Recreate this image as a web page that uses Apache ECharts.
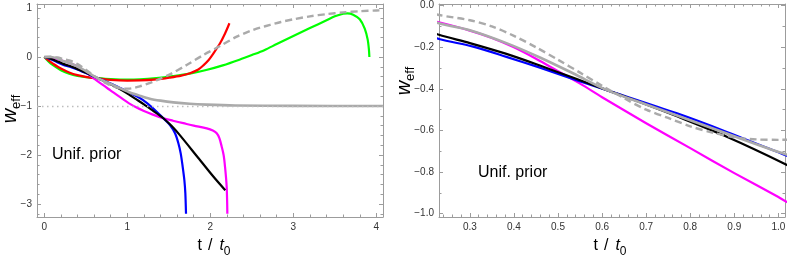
<!DOCTYPE html>
<html><head><meta charset="utf-8">
<script src="https://cdn.jsdelivr.net/npm/echarts@6/dist/echarts.min.js"></script>
<style>html,body{margin:0;padding:0;background:#fff}#c{width:789px;height:259px}</style>
</head><body><div id="c"></div>
<script>
// ---- tick labels ----
const leftXTicks = [0, 1, 2, 3, 4];
const leftYTicks = [-3, -2, -1, 0, 1];
const rightXTicks = [0.3, 0.4, 0.5, 0.6, 0.7, 0.8, 0.9, 1.0];
const rightYTicks = [-1.0, -0.8, -0.6, -0.4, -0.2, 0.0];
const refLevel = -1;
const panelLabel = 'Unif. prior';

// ---- curves [t/t0, w_eff] ----
const grayDashed = [[0,0],[0.08,0.005],[0.16,-0.01],[0.23,-0.045],[0.3,-0.07],[0.35,-0.1],[0.4,-0.145],[0.45,-0.2],[0.5,-0.26],[0.55,-0.322],[0.6,-0.385],[0.65,-0.445],[0.7,-0.5],[0.75,-0.54],[0.8,-0.58],[0.85,-0.61],[0.9,-0.633],[0.95,-0.643],[1.0,-0.645],[1.05,-0.64],[1.15,-0.6],[1.3,-0.51],[1.4,-0.44],[1.514,-0.354],[1.715,-0.163],[1.916,0.04],[2.117,0.224],[2.318,0.415],[2.478,0.53],[2.6,0.6],[2.72,0.655],[2.85,0.715],[3.0,0.77],[3.2,0.83],[3.4,0.875],[3.6,0.91],[3.8,0.935],[4.0,0.95],[4.08,0.955]];
const graySolid = [[0,0],[0.08,0.0],[0.16,-0.03],[0.23,-0.085],[0.3,-0.118],[0.383,-0.18],[0.459,-0.249],[0.535,-0.326],[0.611,-0.406],[0.7,-0.475],[0.77,-0.528],[0.883,-0.615],[1.016,-0.714],[1.15,-0.79],[1.27,-0.85],[1.4,-0.89],[1.554,-0.925],[1.75,-0.955],[1.956,-0.972],[2.3,-0.988],[3.0,-0.997],[4.08,-1.0]];
const blackCurve = [[0,0],[0.08,-0.035],[0.16,-0.09],[0.23,-0.14],[0.3,-0.18],[0.383,-0.232],[0.459,-0.288],[0.535,-0.347],[0.611,-0.406],[0.7,-0.475],[0.77,-0.532],[0.883,-0.63],[1.016,-0.762],[1.1,-0.855],[1.2,-0.965],[1.3,-1.085],[1.434,-1.25],[1.535,-1.41],[1.635,-1.6],[1.836,-2.02],[2.036,-2.44],[2.18,-2.72]];
const blueCurve = [[0,0],[0.08,-0.045],[0.16,-0.11],[0.23,-0.16],[0.3076,-0.197],[0.383,-0.246],[0.459,-0.298],[0.535,-0.353],[0.611,-0.406],[0.77,-0.518],[0.883,-0.607],[1.016,-0.719],[1.1,-0.79],[1.19,-0.878],[1.3,-1.03],[1.434,-1.25],[1.514,-1.388],[1.575,-1.557],[1.615,-1.76],[1.643,-1.966],[1.667,-2.24],[1.687,-2.51],[1.699,-2.78],[1.707,-3.2]];
const magentaCurve = [[0,0],[0.08,-0.015],[0.16,-0.045],[0.23,-0.08],[0.3,-0.12],[0.35,-0.155],[0.4,-0.2],[0.45,-0.255],[0.5,-0.315],[0.55,-0.375],[0.6,-0.44],[0.7,-0.565],[0.8,-0.685],[0.9,-0.805],[1.0,-0.92],[1.016,-0.94],[1.1,-1.02],[1.2,-1.1],[1.3,-1.17],[1.434,-1.25],[1.55,-1.3],[1.675,-1.35],[1.8,-1.4],[1.957,-1.456],[2.03,-1.5],[2.077,-1.557],[2.11,-1.66],[2.137,-1.83],[2.16,-2.0],[2.177,-2.24],[2.197,-2.65],[2.205,-3.2]];
const greenCurve = [[0,0],[0.05,-0.09],[0.1,-0.16],[0.2,-0.27],[0.3,-0.34],[0.4,-0.385],[0.5,-0.41],[0.6,-0.425],[0.8,-0.45],[1.0,-0.462],[1.15,-0.456],[1.35,-0.43],[1.55,-0.39],[1.75,-0.34],[1.95,-0.265],[2.15,-0.17],[2.35,-0.055],[2.5,0.04],[2.65,0.14],[2.8,0.265],[3.0,0.43],[3.2,0.59],[3.4,0.75],[3.5,0.83],[3.6,0.882],[3.65,0.89],[3.72,0.865],[3.8,0.77],[3.86,0.58],[3.895,0.36],[3.91,0.16],[3.916,0.0]];
const redCurve = [[0,0],[0.05,-0.07],[0.1,-0.13],[0.2,-0.235],[0.3,-0.315],[0.4,-0.37],[0.5,-0.405],[0.6,-0.43],[0.8,-0.465],[1.0,-0.48],[1.15,-0.478],[1.35,-0.458],[1.514,-0.42],[1.65,-0.38],[1.755,-0.33],[1.85,-0.26],[1.916,-0.17],[1.98,-0.06],[2.036,0.07],[2.117,0.28],[2.177,0.48],[2.23,0.69]];

// ---- layout ----
const FONT = '"Liberation Sans", Arial, sans-serif';
const leftXRange = [-0.088, 4.08], leftYRange = [-3.265, 1.082];
const rightXRange = [0.230, 1.015], rightYRange = [-1.016, 0.008];

function steps(range, step) {
  const out = [];
  const k0 = Math.ceil(range[0] / step - 1e-9), k1 = Math.floor(range[1] / step + 1e-9);
  for (let k = k0; k <= k1; k++) out.push(Math.round(k * step * 1e6) / 1e6);
  return out;
}
const minus = s => s.replace('-', '\u2212');
const fmtInt = v => minus(String(Math.round(v)));
const fmtDec = v => minus((Math.abs(v) < 1e-9 ? 0 : v).toFixed(1));

const FRAME = '#9c9c9c';
function axes(grid, range, majors, minorStep, sides, fmt) {
  const minors = steps(range, minorStep);
  const base = {type: 'value', gridIndex: grid, min: range[0], max: range[1],
    splitLine: {show: false}, axisPointer: {show: false}, silent: true};
  const res = [];
  sides.forEach((pos, i) => {
    res.push(Object.assign({}, base, {position: pos,
      axisLine: {show: true, onZero: false, lineStyle: {color: FRAME, width: 1}},
      axisTick: {show: true, inside: true, length: 4, customValues: majors, lineStyle: {color: FRAME, width: 1}},
      axisLabel: i === 0 ? {show: true, customValues: majors, formatter: fmt, margin: 5, fontSize: 10,
        color: '#333', fontFamily: FONT, hideOverlap: false} : {show: false}}));
    res.push(Object.assign({}, base, {position: pos,
      axisLine: {show: false, onZero: false},
      axisTick: {show: true, inside: true, length: 2.5, customValues: minors, lineStyle: {color: FRAME, width: 1}},
      axisLabel: {show: false}}));
  });
  return res;
}

const xAxes = [].concat(
  axes(0, leftXRange, leftXTicks, 0.2, ['bottom', 'top'], fmtInt),
  axes(1, rightXRange, rightXTicks, 0.02, ['bottom', 'top'], fmtDec));
const yAxes = [].concat(
  axes(0, leftYRange, leftYTicks, 0.2, ['left', 'right'], fmtInt),
  axes(1, rightYRange, rightYTicks, 0.1, ['left', 'right'], fmtDec));

function curve(data, color, width, type, panel, z) {
  return {type: 'line', data: data, xAxisIndex: panel * 4, yAxisIndex: panel * 4,
    showSymbol: false, symbol: 'none', smooth: 0.3, clip: true,
    lineStyle: {color: color, width: width, type: type, cap: 'butt', join: 'round'}, silent: true, z: z};
}
const GRAY = '#aaaaaa';
const series = [
  curve(greenCurve, '#00ff00', 2.2, 'solid', 0, 2),
  curve(redCurve, '#ff0000', 2.2, 'solid', 0, 2),
  curve(magentaCurve, '#ff00ff', 2.2, 'solid', 0, 2),
  curve(blueCurve, '#0000ff', 2.2, 'solid', 0, 2),
  curve(blackCurve, '#000000', 2.2, 'solid', 0, 2),
  Object.assign(curve(graySolid, GRAY, 2.6, 'solid', 0, 2), {
    markLine: {silent: true, symbol: ['none', 'none'], label: {show: false},
      lineStyle: {type: [1.5, 3.5], color: '#bdbdbd', width: 1.3}, data: [{yAxis: refLevel}]}}),
  curve(grayDashed, GRAY, 2.4, [7, 4], 0, 3),
  curve(magentaCurve, '#ff00ff', 2.2, 'solid', 1, 2),
  curve(blueCurve, '#0000ff', 2.2, 'solid', 1, 2),
  curve(blackCurve, '#000000', 2.2, 'solid', 1, 2),
  curve(graySolid, GRAY, 2.6, 'solid', 1, 2),
  curve(grayDashed, GRAY, 2.4, [7, 4], 1, 3)
];

const richY = {
  w: {fontSize: 20, fontStyle: 'italic', fontFamily: FONT, lineHeight: 26, fill: '#000'},
  e: {fontSize: 13, fontFamily: FONT, lineHeight: 14, verticalAlign: 'bottom', fill: '#000'}
};
const richX = {
  a: {fontSize: 16, fontFamily: FONT, lineHeight: 24, fill: '#000'},
  s: {fontSize: 16, fontFamily: FONT, lineHeight: 24, padding: [0, 7, 0, 6], fill: '#000'},
  b: {fontSize: 16, fontFamily: FONT, fontStyle: 'italic', lineHeight: 24, fill: '#000'},
  c: {fontSize: 12, fontFamily: FONT, lineHeight: 12, verticalAlign: 'bottom', fill: '#000'}
};
function yTitle(x, y) {
  return {type: 'text', x: x, y: y, rotation: Math.PI / 2, silent: true,
    style: {text: '{w|w}{e|eff}', rich: richY, align: 'center', verticalAlign: 'middle', fill: '#000'}};
}
function xTitle(x, y) {
  return {type: 'text', x: x, y: y, silent: true,
    style: {text: '{a|t}{s|/}{b|t}{c|0}', rich: richX, align: 'center', verticalAlign: 'middle', fill: '#000'}};
}
function note(x, y) {
  return {type: 'text', x: x, y: y, silent: true,
    style: {text: panelLabel, font: '16px ' + FONT, fill: '#000', align: 'left', verticalAlign: 'middle'}};
}

const chart = echarts.init(document.getElementById('c'), null, {renderer: 'canvas'});
chart.setOption({
  animation: false,
  backgroundColor: '#fff',
  grid: [
    {left: 37, top: 4, width: 346, height: 213},
    {left: 439, top: 4, width: 346, height: 213}
  ],
  xAxis: xAxes,
  yAxis: yAxes,
  series: series,
  graphic: [note(52, 155), note(478, 173), yTitle(10, 109), yTitle(404, 81), xTitle(214, 246), xTitle(610, 246)]
});
</script></body></html>
